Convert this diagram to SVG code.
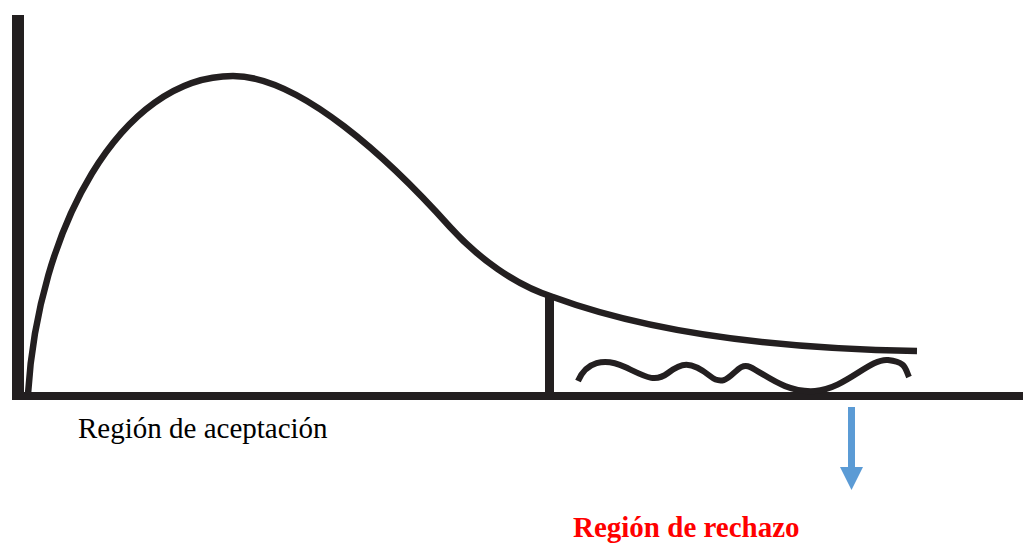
<svg xmlns="http://www.w3.org/2000/svg" width="1023" height="543" viewBox="0 0 1023 543">
<style>
.ink{fill:none;stroke:#231f20;stroke-linecap:butt}
.lbl{font-family:"Liberation Serif","Times New Roman",serif;font-size:29px}
</style>
<rect width="1023" height="543" fill="#ffffff"/>
<g id="axes">
<rect x="12" y="15" width="12" height="385" fill="#231f20"/>
<rect x="12" y="392" width="1011" height="8" fill="#231f20"/>
</g>
<g id="curve">
<path class="ink" stroke-width="6.5" d="M28,394 C38,230 120,76 233,76 C300,76 390,160 450,227 C478,258 515,285 553,297 C610,318 720,348 917,351"/>
</g>
<g id="cutoff">
<rect x="545" y="297" width="9" height="100" fill="#231f20"/>
</g>
<g id="wave">
<path class="ink" stroke-width="6" d="M578,381 C586,362 604,357 625,367 S655,383 668,373 S690,360 710,376 S735,360 750,367 S785,393 815,391 S870,358 888,360 S905,368 909,377"/>
</g>
<g id="connectors">
<rect x="848" y="407" width="7" height="62" fill="#5b9bd5"/>
<polygon points="840,467 863,467 851.5,490" fill="#5b9bd5"/>
</g>
<g id="labels">
<text class="lbl" x="78" y="438" fill="#000000">Región de aceptación</text>
<text class="lbl" x="573" y="537" fill="#ff0000" font-weight="bold">Región de rechazo</text>
</g>
</svg>
